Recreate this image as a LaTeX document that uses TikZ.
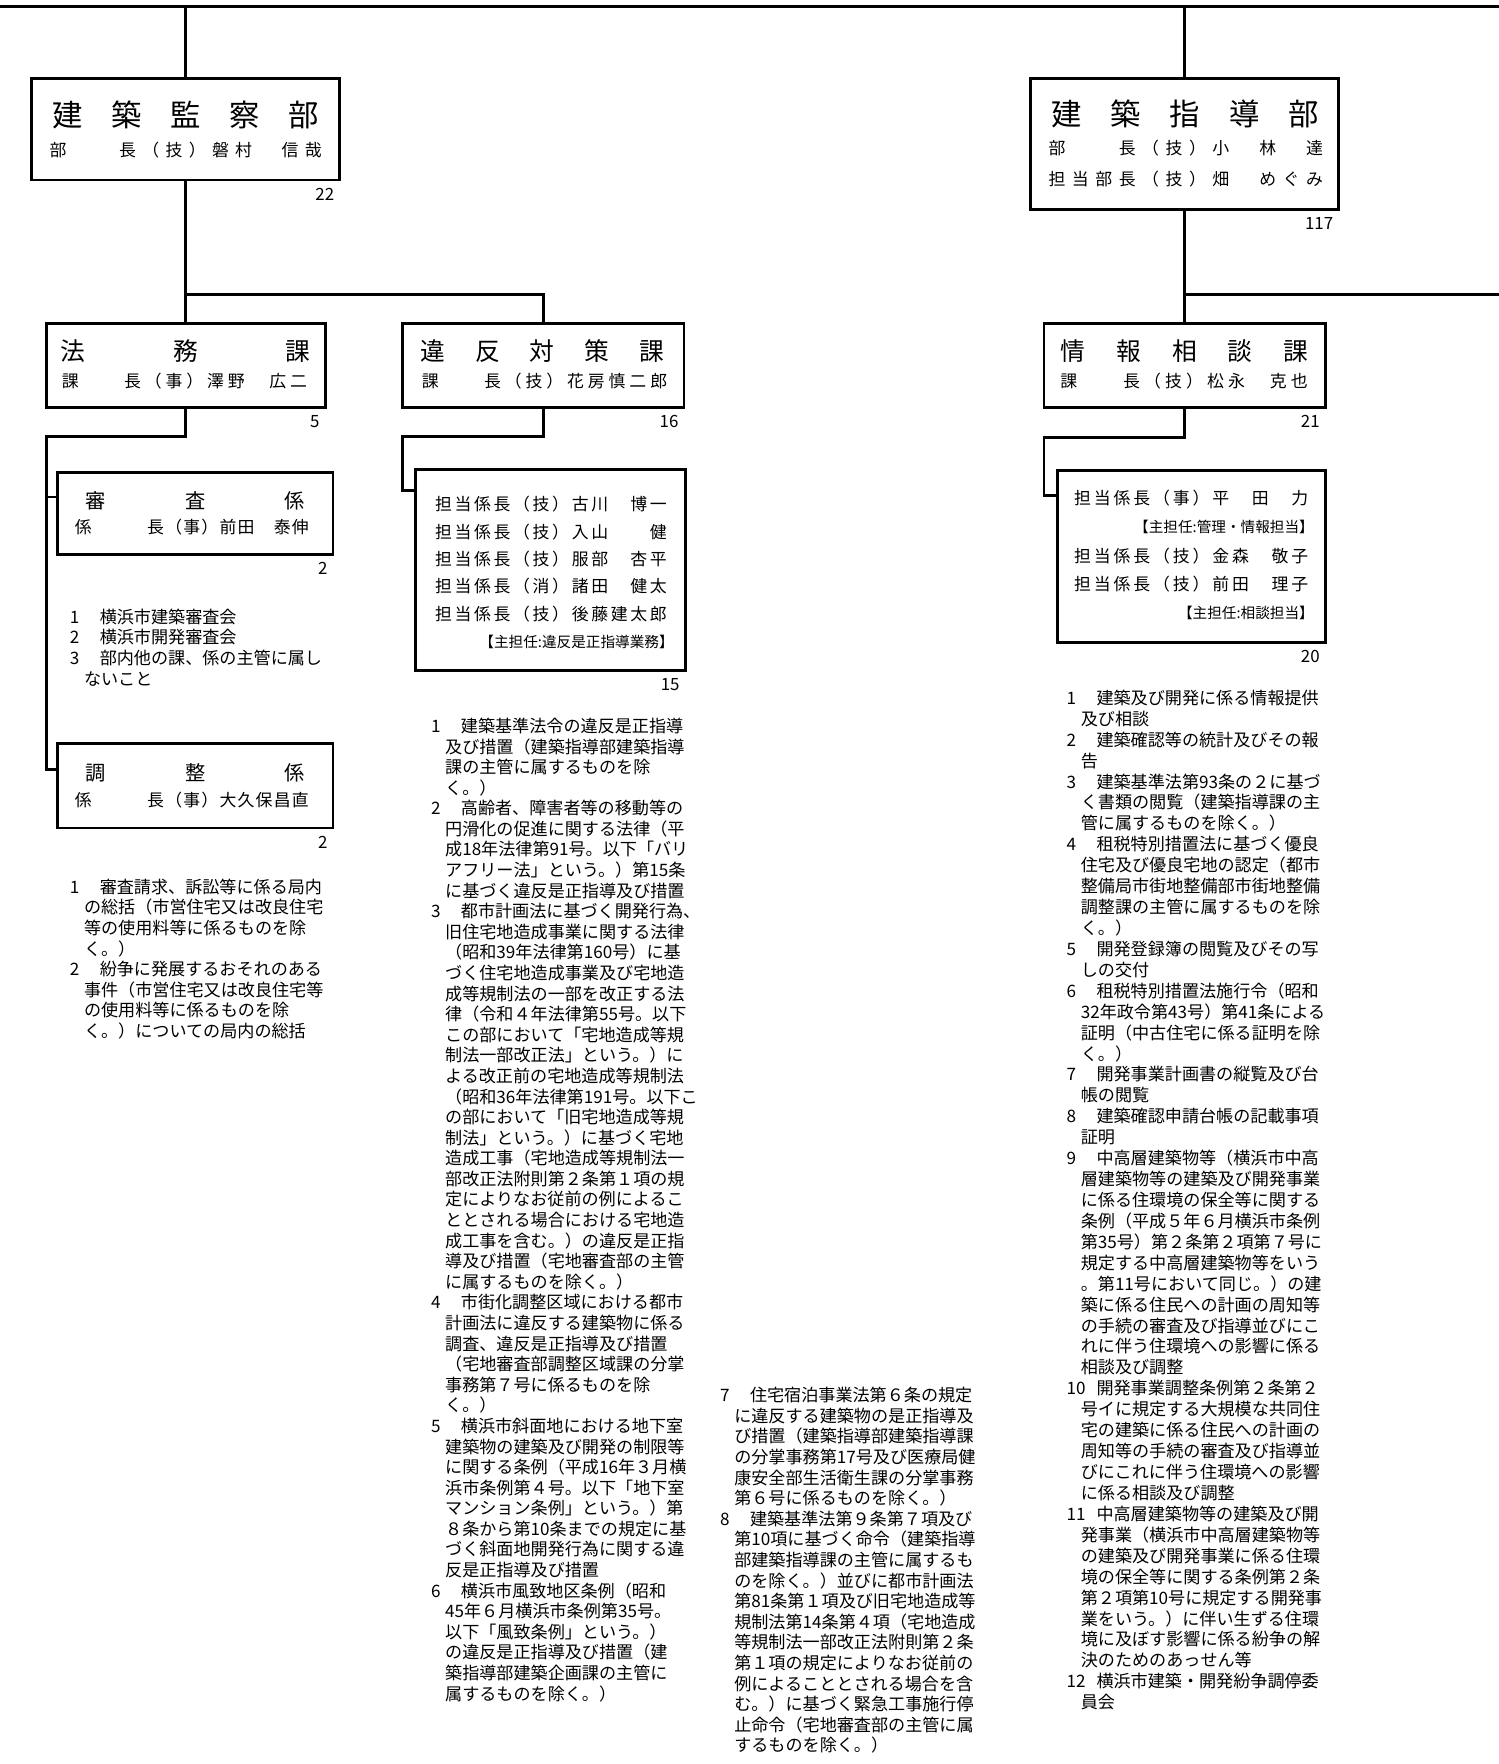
\documentclass[tikz,border=0pt]{standalone}
\usepackage{fontspec}
\setmainfont{Noto Sans CJK JP}
\usetikzlibrary{positioning}

\newlength{\dutynumw}\setlength{\dutynumw}{26.5pt}
\newlength{\dutyindw}\setlength{\dutyindw}{12.5pt}
\newcommand{\dno}[1]{\makebox[\dutynumw][l]{#1}}
\newcommand{\din}{\hspace*{\dutyindw}}
\newcommand{\spreadtext}[2]{\makebox[#1]{\spreadloop#2\relax\relax}}
\def\spreadloop#1#2{#1\ifx\relax#2\else\hfill\expandafter\spreadloop\expandafter#2\fi}

\begin{document}
\begin{tikzpicture}[
  x=1pt, y=-1pt,
  orgbox/.style={draw, line width=2.5pt, inner sep=0pt},
  link/.style={line width=2.5pt},
  titlebig/.style={font=\fontsize{27}{27}\selectfont, inner sep=0pt},
  titlemid/.style={font=\fontsize{22}{22}\selectfont, inner sep=0pt},
  titlesmall/.style={font=\fontsize{18}{18}\selectfont, inner sep=0pt},
  nameline/.style={font=\fontsize{15}{15}\selectfont, inner sep=0pt},
  dutynote/.style={font=\fontsize{13}{13}\selectfont, inner sep=0pt, anchor=east},
  headcount/.style={font=\fontsize{15}{15}\selectfont, inner sep=0pt},
  duties/.style={font=\fontsize{15.2}{18.3}\selectfont, align=left, anchor=north west, inner sep=0pt}
]
\useasboundingbox (0,0) rectangle (1332,1568);

% top bus
\coordinate (topL) at (0,6);
\coordinate (topR) at (1332,6);
\draw[link] (topL) -- (topR);

% departments
\node[orgbox, minimum width=274pt, minimum height=90pt] (kansatsu) at (165,115) {};
\node[titlebig] (kansatsu-t) at (165,102) {\spreadtext{237pt}{建築監察部}};
\node[nameline] (kansatsu-h) at (165,133.5) {\spreadtext{242pt}{部　　長（技）磐村　信哉}};
\node[headcount, below left=5.5pt and 6pt of kansatsu.south east] (kansatsu-n) {22};

\node[orgbox, minimum width=274pt, minimum height=116pt] (shidou) at (1053,128) {};
\node[titlebig] (shidou-t) at (1053.5,101) {\spreadtext{237pt}{建築指導部}};
\node[nameline] (shidou-h1) at (1054,132) {\spreadtext{244pt}{部　　長（技）小　林　達}};
\node[nameline] (shidou-h2) at (1054,159) {\spreadtext{244pt}{担当部長（技）畑　めぐみ}};
\node[headcount, below left=5.5pt and 6pt of shidou.south east] (shidou-n) {117};

\draw[link] (kansatsu.north) -- (kansatsu.north |- topL);
\draw[link] (shidou.north) -- (shidou.north |- topL);

% sections
\node[orgbox, minimum width=248pt, minimum height=75pt] (houmu) at (165,325) {};
\node[titlemid] (houmu-t) at (165,312) {\spreadtext{222pt}{法務課}};
\node[nameline] (houmu-h) at (164,338.5) {\spreadtext{218pt}{課　　長（事）澤野　広二}};
\node[headcount, below left=5.5pt and 6pt of houmu.south east] (houmu-n) {5};

\node[orgbox, minimum width=250pt, minimum height=75pt] (ihan) at (483,325) {};
\node[titlemid] (ihan-t) at (482,312) {\spreadtext{216pt}{違反対策課}};
\node[nameline] (ihan-h) at (484,338.5) {\spreadtext{218pt}{課　　長（技）花房慎二郎}};
\node[headcount, below left=5.5pt and 6pt of ihan.south east] (ihan-n) {16};

\node[orgbox, minimum width=250pt, minimum height=75pt] (jouhou) at (1053,325) {};
\node[titlemid] (jouhou-t) at (1053,312) {\spreadtext{220pt}{情報相談課}};
\node[nameline] (jouhou-h) at (1052.5,338.5) {\spreadtext{220pt}{課　　長（技）松永　克也}};
\node[headcount, below left=5.5pt and 6pt of jouhou.south east] (jouhou-n) {21};

\coordinate (kbus) at (165,262);
\coordinate (sbus) at (1053,262);
\coordinate (sbusR) at (1332,262);
\draw[link] (kansatsu.south) -- (kbus) -| (ihan.north);
\draw[link] (kbus) -- (houmu.north);
\draw[link] (shidou.south) -- (sbus) -- (jouhou.north);
\draw[link] (sbus) -- (sbusR);

% units of houmu
\node[orgbox, minimum width=245pt, minimum height=73pt] (shinsa) at (173.5,456.5) {};
\node[titlesmall] (shinsa-t) at (173.5,445) {\spreadtext{195pt}{審査係}};
\node[nameline] (shinsa-h) at (170.5,468.5) {\spreadtext{208pt}{係　　　長（事）前田　泰伸}};
\node[headcount, below left=5.5pt and 6pt of shinsa.south east] (shinsa-n) {2};

\node[orgbox, minimum width=245pt, minimum height=75pt] (chousei) at (173.5,698.5) {};
\node[titlesmall] (chousei-t) at (173.5,687) {\spreadtext{195pt}{調整係}};
\node[nameline] (chousei-h) at (170.5,711) {\spreadtext{208pt}{係　　　長（事）大久保昌直}};
\node[headcount, below left=5.5pt and 6pt of chousei.south east] (chousei-n) {2};

\coordinate (hbus) at (41,388);
\draw[link] (houmu.south) |- (hbus) |- ([yshift=-24pt]chousei.north west);
\draw[link] ([yshift=-23pt]shinsa.north west) -| (hbus);

% staff of ihan
\node[orgbox, minimum width=240pt, minimum height=179pt] (ihanstaff) at (489,506.5) {};
\node[nameline] (ihanstaff-1) at (489.7,448) {\spreadtext{206pt}{担当係長（技）古川　博一}};
\node[nameline] (ihanstaff-2) at (489.7,472.6) {\spreadtext{206pt}{担当係長（技）入山　　健}};
\node[nameline] (ihanstaff-3) at (489.7,497) {\spreadtext{206pt}{担当係長（技）服部　杏平}};
\node[nameline] (ihanstaff-4) at (489.7,521) {\spreadtext{206pt}{担当係長（消）諸田　健太}};
\node[nameline] (ihanstaff-5) at (489.7,545.7) {\spreadtext{206pt}{担当係長（技）後藤建太郎}};
\node[dutynote] (ihanstaff-note) at (599,571) {【主担任:違反是正指導業務】};
\node[headcount, below left=5.5pt and 6pt of ihanstaff.south east] (ihanstaff-n) {15};

\coordinate (ibus) at (358,388);
\draw[link] (ihan.south) |- (ibus) |- ([yshift=-20pt]ihanstaff.north west);

% staff of jouhou
\node[orgbox, minimum width=238pt, minimum height=153pt] (jouhoustaff) at (1059,494.5) {};
\node[nameline] (jouhoustaff-1) at (1058.8,442.7) {\spreadtext{208pt}{担当係長（事）平　田　力}};
\node[dutynote] (jouhoustaff-note1) at (1168,468.5) {【主担任:管理・情報担当】};
\node[nameline] (jouhoustaff-2) at (1058.8,494) {\spreadtext{208pt}{担当係長（技）金森　敬子}};
\node[nameline] (jouhoustaff-3) at (1058.8,519) {\spreadtext{208pt}{担当係長（技）前田　理子}};
\node[dutynote] (jouhoustaff-note2) at (1168,544.5) {【主担任:相談担当】};
\node[headcount, below left=5.5pt and 6pt of jouhoustaff.south east] (jouhoustaff-n) {20};

\coordinate (jbus) at (928,389);
\draw[link] (jouhou.south) |- (jbus) |- ([yshift=-24pt]jouhoustaff.north west);

% duties
\node[duties] (shinsa-d) at (62,541) {%
\dno{1}横浜市建築審査会\\
\dno{2}横浜市開発審査会\\
\dno{3}部内他の課、係の主管に属し\\
\din ないこと};

\node[duties] (chousei-d) at (62,781) {%
\dno{1}審査請求、訴訟等に係る局内\\
\din の総括（市営住宅又は改良住宅\\
\din 等の使用料等に係るものを除\\
\din く。）\\
\dno{2}紛争に発展するおそれのある\\
\din 事件（市営住宅又は改良住宅等\\
\din の使用料等に係るものを除\\
\din く。）についての局内の総括};

\node[duties] (ihan-d) at (383,638) {%
\dno{1}建築基準法令の違反是正指導\\
\din 及び措置（建築指導部建築指導\\
\din 課の主管に属するものを除\\
\din く。）\\
\dno{2}高齢者、障害者等の移動等の\\
\din 円滑化の促進に関する法律（平\\
\din 成18年法律第91号。以下「バリ\\
\din アフリー法」という。）第15条\\
\din に基づく違反是正指導及び措置\\
\dno{3}都市計画法に基づく開発行為、\\
\din 旧住宅地造成事業に関する法律\\
\din （昭和39年法律第160号）に基\\
\din づく住宅地造成事業及び宅地造\\
\din 成等規制法の一部を改正する法\\
\din 律（令和４年法律第55号。以下\\
\din この部において「宅地造成等規\\
\din 制法一部改正法」という。）に\\
\din よる改正前の宅地造成等規制法\\
\din （昭和36年法律第191号。以下こ\\
\din の部において「旧宅地造成等規\\
\din 制法」という。）に基づく宅地\\
\din 造成工事（宅地造成等規制法一\\
\din 部改正法附則第２条第１項の規\\
\din 定によりなお従前の例によるこ\\
\din ととされる場合における宅地造\\
\din 成工事を含む。）の違反是正指\\
\din 導及び措置（宅地審査部の主管\\
\din に属するものを除く。）\\
\dno{4}市街化調整区域における都市\\
\din 計画法に違反する建築物に係る\\
\din 調査、違反是正指導及び措置\\
\din （宅地審査部調整区域課の分掌\\
\din 事務第７号に係るものを除\\
\din く。）\\
\dno{5}横浜市斜面地における地下室\\
\din 建築物の建築及び開発の制限等\\
\din に関する条例（平成16年３月横\\
\din 浜市条例第４号。以下「地下室\\
\din マンション条例」という。）第\\
\din ８条から第10条までの規定に基\\
\din づく斜面地開発行為に関する違\\
\din 反是正指導及び措置\\
\dno{6}横浜市風致地区条例（昭和\\
\din 45年６月横浜市条例第35号。\\
\din 以下「風致条例」という。）\\
\din の違反是正指導及び措置（建\\
\din 築指導部建築企画課の主管に\\
\din 属するものを除く。）};

\node[duties] (ihan-d2) at (640,1233) {%
\dno{7}住宅宿泊事業法第６条の規定\\
\din に違反する建築物の是正指導及\\
\din び措置（建築指導部建築指導課\\
\din の分掌事務第17号及び医療局健\\
\din 康安全部生活衛生課の分掌事務\\
\din 第６号に係るものを除く。）\\
\dno{8}建築基準法第９条第７項及び\\
\din 第10項に基づく命令（建築指導\\
\din 部建築指導課の主管に属するも\\
\din のを除く。）並びに都市計画法\\
\din 第81条第１項及び旧宅地造成等\\
\din 規制法第14条第４項（宅地造成\\
\din 等規制法一部改正法附則第２条\\
\din 第１項の規定によりなお従前の\\
\din 例によることとされる場合を含\\
\din む。）に基づく緊急工事施行停\\
\din 止命令（宅地審査部の主管に属\\
\din するものを除く。）};

\node[duties, font=\fontsize{15.2}{18.6}\selectfont] (jouhou-d) at (948,613) {%
\dno{1}建築及び開発に係る情報提供\\
\din 及び相談\\
\dno{2}建築確認等の統計及びその報\\
\din 告\\
\dno{3}建築基準法第93条の２に基づ\\
\din く書類の閲覧（建築指導課の主\\
\din 管に属するものを除く。）\\
\dno{4}租税特別措置法に基づく優良\\
\din 住宅及び優良宅地の認定（都市\\
\din 整備局市街地整備部市街地整備\\
\din 調整課の主管に属するものを除\\
\din く。）\\
\dno{5}開発登録簿の閲覧及びその写\\
\din しの交付\\
\dno{6}租税特別措置法施行令（昭和\\
\din 32年政令第43号）第41条による\\
\din 証明（中古住宅に係る証明を除\\
\din く。）\\
\dno{7}開発事業計画書の縦覧及び台\\
\din 帳の閲覧\\
\dno{8}建築確認申請台帳の記載事項\\
\din 証明\\
\dno{9}中高層建築物等（横浜市中高\\
\din 層建築物等の建築及び開発事業\\
\din に係る住環境の保全等に関する\\
\din 条例（平成５年６月横浜市条例\\
\din 第35号）第２条第２項第７号に\\
\din 規定する中高層建築物等をいう\\
\din 。第11号において同じ。）の建\\
\din 築に係る住民への計画の周知等\\
\din の手続の審査及び指導並びにこ\\
\din れに伴う住環境への影響に係る\\
\din 相談及び調整\\
\dno{10}開発事業調整条例第２条第２\\
\din 号イに規定する大規模な共同住\\
\din 宅の建築に係る住民への計画の\\
\din 周知等の手続の審査及び指導並\\
\din びにこれに伴う住環境への影響\\
\din に係る相談及び調整\\
\dno{11}中高層建築物等の建築及び開\\
\din 発事業（横浜市中高層建築物等\\
\din の建築及び開発事業に係る住環\\
\din 境の保全等に関する条例第２条\\
\din 第２項第10号に規定する開発事\\
\din 業をいう。）に伴い生ずる住環\\
\din 境に及ぼす影響に係る紛争の解\\
\din 決のためのあっせん等\\
\dno{12}横浜市建築・開発紛争調停委\\
\din 員会};
\end{tikzpicture}
\end{document}
